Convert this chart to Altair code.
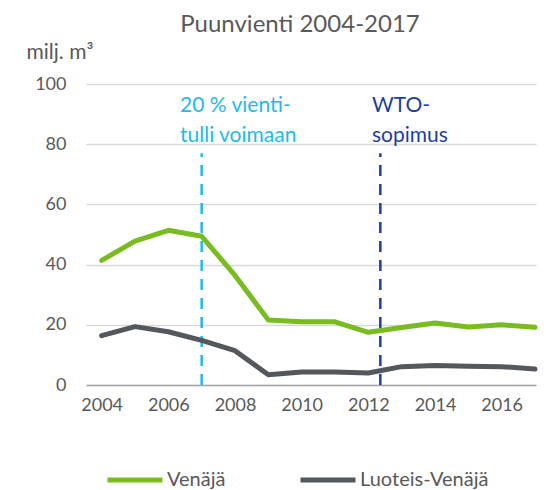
import altair as alt
import pandas as pd

years = list(range(2004, 2018))
venaja = [41.4, 47.8, 51.4, 49.4, 36.4, 21.6, 21.0, 21.0, 17.5, 19.1, 20.6, 19.3, 20.0, 19.2]
luoteis = [16.4, 19.4, 17.7, 14.8, 11.4, 3.4, 4.3, 4.3, 4.0, 6.1, 6.5, 6.2, 6.1, 5.3]
series_names = ["Venäjä", "Luoteis-Venäjä"]
series_colors = ["#78BC22", "#54575B"]

event_x = [2007, 2012.36]
event_top = [77, 77]
event_colors = ["#1EBBEA", "#1E3F9E"]

ann_x = [2006.35, 2006.35, 2012.11, 2012.11]
ann_y = [90.7, 80.7, 90.7, 80.7]
ann_text = ["20 % vienti-", "tulli voimaan", "WTO-", "sopimus"]
ann_group = ["a", "a", "b", "b"]

title_text = ["Puunvienti 2004-2017"]
title_x = [2009.95]
title_y = [117.3]

FONT = "Lato"
TXT = "#595959"

rows = []
for name, vals in zip(series_names, [venaja, luoteis]):
    for y, v in zip(years, vals):
        rows.append({"year": y, "value": v, "series": name})
df = pd.DataFrame(rows)

ev = pd.DataFrame({"x": event_x, "y0": [0, 0], "y1": event_top, "c": ["a", "b"]})
ann = pd.DataFrame({"x": ann_x, "y": ann_y, "t": ann_text, "c": ann_group})
ttl = pd.DataFrame({"x": title_x, "y": title_y, "t": title_text})

xscale = alt.Scale(domain=[2003.53, 2017.03], nice=False, zero=False)
yscale = alt.Scale(domain=[0, 100], nice=False)

xaxis = alt.Axis(values=[2004, 2006, 2008, 2010, 2012, 2014, 2016], format="d",
                 title=None, grid=False, ticks=False, domain=True,
                 domainColor="#A6A6A6", domainWidth=1.5,
                 labelFont=FONT, labelFontSize=18, labelColor=TXT, labelPadding=11)
yaxis = alt.Axis(values=[0, 20, 40, 60, 80, 100], title="milj. m³", titleAngle=0,
                 titleX=-60, titleY=-26, titleAlign="left", titleBaseline="alphabetic",
                 titleFont=FONT, titleFontSize=21, titleFontWeight="normal", titleColor=TXT,
                 grid=True, gridColor="#D9D9D9", gridWidth=1.5, ticks=False, domain=False,
                 labelFont=FONT, labelFontSize=18, labelColor=TXT, labelPadding=20)

lines = alt.Chart(df).mark_line(strokeWidth=5, strokeCap="round", strokeJoin="round", clip=False).encode(
    x=alt.X("year:Q", scale=xscale, axis=xaxis),
    y=alt.Y("value:Q", scale=yscale, axis=yaxis),
    color=alt.Color("series:N", scale=alt.Scale(domain=series_names, range=series_colors),
                    sort=series_names,
                    legend=alt.Legend(title=None, orient="none", direction="horizontal",
                                      legendX=19, legendY=366, symbolType="stroke",
                                      symbolSize=3025, symbolStrokeWidth=5,
                                      labelFont=FONT, labelFontSize=20, labelColor=TXT,
                                      labelOffset=2, columnPadding=64)),
    detail="series:N",
)

rules = alt.Chart(ev).mark_rule(strokeWidth=2.5, strokeDash=[11, 8]).encode(
    x=alt.X("x:Q", scale=xscale, axis=xaxis),
    y=alt.Y("y0:Q", scale=yscale, axis=yaxis),
    y2="y1:Q",
    color=alt.Color("c:N", scale=alt.Scale(domain=["a", "b"], range=event_colors), legend=None),
)

texts = alt.Chart(ann).mark_text(align="left", baseline="alphabetic", font=FONT, fontSize=21).encode(
    x=alt.X("x:Q", scale=xscale, axis=xaxis),
    y=alt.Y("y:Q", scale=yscale, axis=yaxis),
    text="t:N",
    color=alt.Color("c:N", scale=alt.Scale(domain=["a", "b"], range=event_colors), legend=None),
)

title = alt.Chart(ttl).mark_text(align="center", baseline="alphabetic", font=FONT, fontSize=24,
                                 color=TXT, clip=False).encode(
    x=alt.X("x:Q", scale=xscale, axis=xaxis),
    y=alt.Y("y:Q", scale=yscale, axis=yaxis),
    text="t:N",
)

chart = alt.layer(rules, lines, texts, title).resolve_scale(color="independent").properties(
    width=450,
    height=301,
    autosize=alt.AutoSizeParams(type="none"),
    padding={"left": 78, "top": 76, "right": 2, "bottom": 104},
).configure_view(stroke=None)

chart.save("out.html", embed_options={"renderer": "svg", "actions": False})
